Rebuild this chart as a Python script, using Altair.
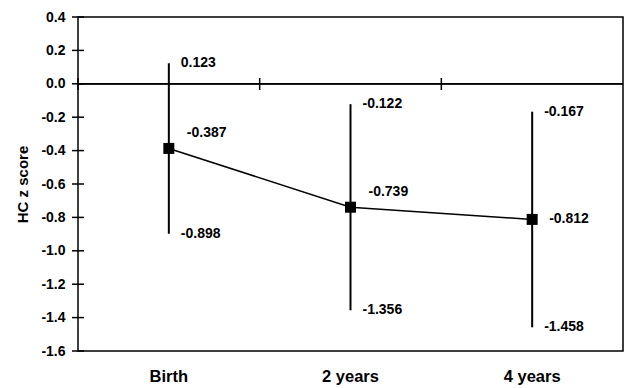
import altair as alt
import pandas as pd

categories = ["Birth", "2 years", "4 years"]
means = [-0.387, -0.739, -0.812]
upper = [0.123, -0.122, -0.167]
lower = [-0.898, -1.356, -1.458]
y_ticks = [0.4, 0.2, 0.0, -0.2, -0.4, -0.6, -0.8, -1.0, -1.2, -1.4, -1.6]

df = pd.DataFrame({"cat": categories, "mean": means, "upper": upper, "lower": lower})
ticks_df = pd.DataFrame({"t": y_ticks})

FONT = "Liberation Sans"

xscale = alt.Scale(domain=categories, paddingInner=0, paddingOuter=0)
yscale = alt.Scale(domain=[-1.6, 0.4], nice=False, zero=False)

xaxis = alt.Axis(title=None, labelAngle=0)
yaxis = alt.Axis(title="HC z score", values=y_ticks,
                 labelExpr="replace(format(datum.value, '.1f'), '\u2212', '-')")

X = alt.X("cat:N", scale=xscale, sort=categories, axis=xaxis)

def Yf(f):
    return alt.Y(f, scale=yscale, axis=yaxis, title="HC z score")

base = alt.Chart(df).transform_calculate(
    up_t="replace(format(datum.upper, '.3f'), '\u2212', '-')",
    lo_t="replace(format(datum.lower, '.3f'), '\u2212', '-')",
    mean_t="replace(format(datum.mean, '.3f'), '\u2212', '-')",
)

line = base.mark_line(color="black", strokeWidth=1.5).encode(x=X, y=Yf("mean:Q"))

zero_line = base.mark_rule(color="black", strokeWidth=1.5).encode(
    y=alt.datum(0, scale=yscale, axis=yaxis, title="HC z score"))

zero_ticks = base.mark_rule(color="black", strokeWidth=1.5).encode(
    x=alt.X("cat:N", scale=xscale, sort=categories, bandPosition=0, axis=xaxis),
    y=alt.value(61), y2=alt.value(73))

y_tick_marks = alt.Chart(ticks_df).mark_rule(color="black", strokeWidth=1.5).encode(
    y=Yf("t:Q"), x=alt.value(-6), x2=alt.value(6))

err = base.mark_rule(color="black", strokeWidth=2).encode(
    x=X, y=Yf("upper:Q"), y2="lower:Q")

pts = base.mark_square(color="black", size=121, opacity=1, filled=True).encode(x=X, y=Yf("mean:Q"))

txt_kw = dict(font=FONT, fontSize=14, fontWeight="bold", color="black", align="left", baseline="middle")

up_lbl = base.mark_text(dx=12, **txt_kw).encode(x=X, y=Yf("upper:Q"), text="up_t:N")
lo_lbl = base.mark_text(dx=12, **txt_kw).encode(x=X, y=Yf("lower:Q"), text="lo_t:N")
mean_lbl_a = base.transform_filter(alt.datum.cat != "4 years").mark_text(dx=18, dy=-15, **txt_kw).encode(
    x=X, y=Yf("mean:Q"), text="mean_t:N")
mean_lbl_b = base.transform_filter(alt.datum.cat == "4 years").mark_text(dx=17, dy=0, **txt_kw).encode(
    x=X, y=Yf("mean:Q"), text="mean_t:N")

chart = alt.layer(
    line, err, zero_line, zero_ticks, y_tick_marks, pts, up_lbl, lo_lbl, mean_lbl_a, mean_lbl_b
).properties(
    width=545, height=334,
    autosize=alt.AutoSizeParams(type="none"),
    padding={"left": 70, "top": 9, "right": 1, "bottom": 37},
    background="white",
).configure_view(
    stroke="black", strokeWidth=1.5
).configure_axisY(
    ticks=False, tickSize=0, grid=False, domain=False,
    labelOverlap=False, labelBound=False,
    labelFont=FONT, labelFontSize=14, labelFontWeight="bold",
    labelColor="black", labelPadding=13,
    titleFont=FONT, titleFontSize=15, titleFontWeight="bold",
    titleColor="black", titlePadding=10,
).configure_axisX(
    ticks=False, tickSize=0, grid=False, domain=False,
    labelFont=FONT, labelFontSize=16.5, labelFontWeight="bold",
    labelColor="black", labelPadding=17,
)

chart.save("out.html", embed_options={"renderer": "svg", "actions": False})
